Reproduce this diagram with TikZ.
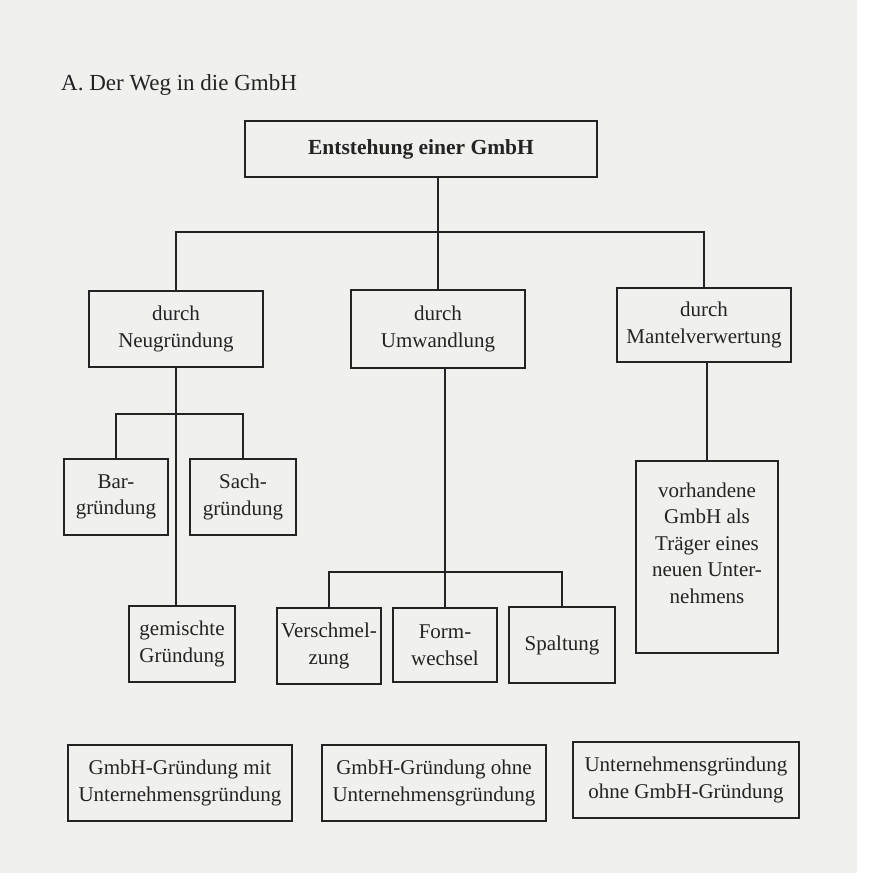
\documentclass[tikz,border=0pt]{standalone}
\usepackage{fontspec}
\setmainfont{Liberation Serif}
\definecolor{paper}{RGB}{240,240,238}
\definecolor{ink}{RGB}{35,35,35}
\tikzset{
  box/.style={draw=ink, line width=1.2pt, inner sep=2pt, align=center,
              font=\fontsize{21}{26.5}\selectfont, text=ink},
  txt/.style={inner sep=0pt, align=center, font=\fontsize{21}{26.5}\selectfont, text=ink},
  conn/.style={draw=ink, line width=1.2pt}
}
\begin{document}
\begin{tikzpicture}[x=1pt,y=-1pt]
\useasboundingbox (0,0) rectangle (868,883);
\fill[white] (0,0) rectangle (868,883);
\fill[paper] (0,0) rectangle (857,873);

\node[anchor=base west, inner sep=0pt, text=ink, font=\fontsize{23}{27}\selectfont] (title) at (61,90) {A. Der Weg in die GmbH};

\node[box, minimum width=352, minimum height=56, font=\fontsize{21.5}{26}\selectfont\bfseries] (top) at (421,149) {Entstehung einer GmbH};

\node[box, minimum width=174, minimum height=76] (neu) at (176,329) {durch\\Neugründung};
\node[box, minimum width=174, minimum height=78] (umw) at (438,329) {durch\\Umwandlung};
\node[box, minimum width=174, minimum height=74] (man) at (704,325) {durch\\Mantelverwertung};

\node[box, minimum width=104, minimum height=76] (bar) at (116,497) {Bar-\\gründung};
\node[box, minimum width=106, minimum height=76] (sach) at (243,497) {Sach-\\gründung};
\node[box, minimum width=106, minimum height=76] (gem) at (182,644) {gemischte\\Gründung};

\node[box, minimum width=104, minimum height=76] (ver) at (329,646) {Verschmel-\\zung};
\node[box, minimum width=104, minimum height=74] (form) at (445,645) {Form-\\wechsel};
\node[box, minimum width=106, minimum height=76] (spalt) at (562,645) {Spaltung};

\node[box, minimum width=142, minimum height=192] (vor) at (707,557) {};
\node[txt] (vortxt) at (707,543) {vorhandene\\GmbH als\\Träger eines\\neuen Unter-\\nehmens};

\node[box, minimum width=224, minimum height=76] (b1) at (180,783) {GmbH-Gründung mit\\Unternehmensgründung};
\node[box, minimum width=224, minimum height=76] (b2) at (434,783) {GmbH-Gründung ohne\\Unternehmensgründung};
\node[box, minimum width=226, minimum height=76] (b3) at (686,780) {Unternehmensgründung\\ohne GmbH-Gründung};

\coordinate (busA) at (0,232);
\coordinate (busB) at (0,414);
\coordinate (busC) at (0,572);

\draw[conn] (umw.north |- top.south) -- (umw.north);
\draw[conn] (neu.north) -- (neu.north |- busA) -- (man.north |- busA) -- (man.north);
\draw[conn] (neu.south) -- (neu.south |- gem.north);
\draw[conn] (bar.north) -- (bar.north |- busB) -- (sach.north |- busB) -- (sach.north);
\draw[conn] (form.north |- umw.south) -- (form.north);
\draw[conn] (ver.north) -- (ver.north |- busC) -- (spalt.north |- busC) -- (spalt.north);
\draw[conn] (vor.north |- man.south) -- (vor.north);
\end{tikzpicture}
\end{document}
